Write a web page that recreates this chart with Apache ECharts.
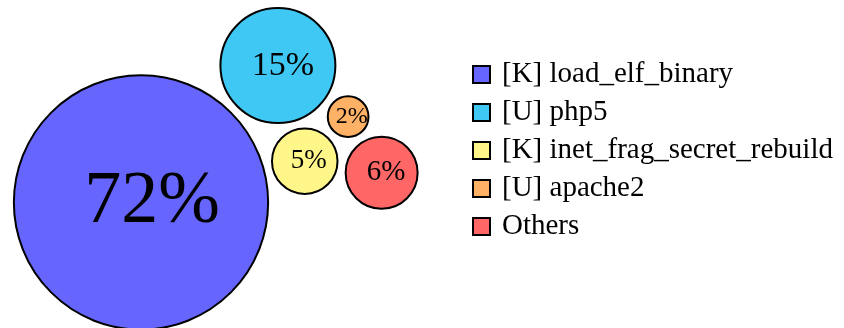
<!DOCTYPE html>
<html>
<head>
<meta charset="utf-8">
<script src="https://cdn.jsdelivr.net/npm/echarts@6/dist/echarts.min.js"></script>
<style>
	html, body { margin: 0; padding: 0; background: #fff; }
	#chart { width: 844px; height: 328px; }
</style>
</head>
<body>
<div id="chart"></div>
<script>
// 数据
var categories = ['[K] load_elf_binary', '[U] php5', '[K] inet_frag_secret_rebuild', '[U] apache2', 'Others'];
var shares = [72, 15, 5, 2, 6];

// 样式
var colors = ['#6666FF', '#40C8F4', '#FFF68A', '#FFB266', '#FF6666'];
var labelSizes = [74, 34, 27, 24, 29];

var _pack = {
	scale : 15.1,      // 半径 = scale * sqrt(百分比)
	gap : 7,           // 圆与圆之间的空隙
	anchor : [141, 202.5],
	angle : -Math.PI / 4,

	radius : function(v) {
		return this.scale * Math.sqrt(v);
	},

	/**
	 * 与 a、b 两圆相切（留 gap）的圆心
	 */
	touch : function(a, b, r, side) {
		var da = a.r + r + this.gap, db = b.r + r + this.gap;
		var dx = b.x - a.x, dy = b.y - a.y;
		var d = Math.sqrt(dx * dx + dy * dy);
		var l = (da * da - db * db + d * d) / (2 * d);
		var h = Math.sqrt(Math.max(0, da * da - l * l));
		return {
			x : a.x + l * dx / d - side * h * dy / d,
			y : a.y + l * dy / d + side * h * dx / d,
			r : r
		};
	},

	/**
	 * 之字形排列：每个圆贴住前两个圆
	 */
	layout : function(values) {
		var out = [];
		for (var i = 0; i < values.length; i++) {
			var r = this.radius(values[i]);
			if (i == 0) {
				out.push({ x : this.anchor[0], y : this.anchor[1], r : r });
			} else if (i == 1) {
				var d = out[0].r + r + this.gap;
				out.push({ x : out[0].x + d * Math.cos(this.angle), y : out[0].y + d * Math.sin(this.angle), r : r });
			} else {
				out.push(this.touch(out[i - 2], out[i - 1], r, i % 2 == 0 ? 1 : -1));
			}
		}
		return out;
	}
};

var circles = _pack.layout(shares);

var series = [];
for (var i = 0; i < categories.length; i++) {
	(function(i) {
		series.push({
			name : categories[i],
			type : 'scatter',
			symbol : 'circle',
			symbolSize : 2 * circles[i].r - 2,
			itemStyle : {
				color : colors[i],
				opacity : 1,
				borderColor : '#000',
				borderWidth : 2
			},
			emphasis : { disabled : true },
			label : {
				show : true,
				position : 'inside',
				formatter : function() {
					return shares[i] + '%';
				},
				fontFamily : 'Liberation Serif',
				fontSize : labelSizes[i],
				color : '#000',
				offset : [labelSizes[i] * 0.15, 0]
			},
			data : [[circles[i].x, circles[i].y, shares[i]]]
		});
	})(i);
}

var chart = echarts.init(document.getElementById('chart'));
chart.setOption({
	animation : false,
	grid : { left : 0, right : 0, top : 0, bottom : 0 },
	xAxis : { type : 'value', min : 0, max : 844, show : false },
	yAxis : { type : 'value', min : 0, max : 328, inverse : true, show : false },
	legend : {
		orient : 'vertical',
		left : 472,
		top : 60,
		padding : 0,
		icon : 'rect',
		itemWidth : 17,
		itemHeight : 17,
		itemGap : 9,
		itemStyle : { borderColor : '#000', borderWidth : 2 },
		selectedMode : false,
		textStyle : {
			fontFamily : 'Liberation Serif',
			fontSize : 29,
			color : '#000',
			padding : [0, 0, 0, 7]
		},
		data : categories
	},
	series : series
});
</script>
</body>
</html>
